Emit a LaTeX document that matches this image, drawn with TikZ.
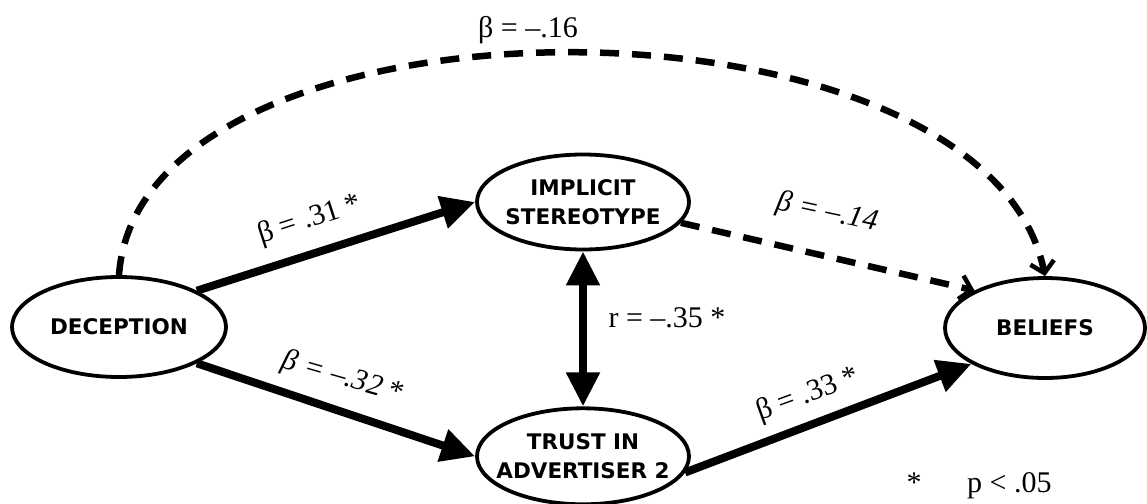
\documentclass[tikz,border=0pt]{standalone}
\usepackage{fontspec}
\setmainfont{Liberation Serif}
\newfontfamily\varfont{DejaVu Sans}
\usetikzlibrary{positioning,arrows.meta,shapes.geometric}

\begin{document}
\begin{tikzpicture}[
  x=1pt, y=-1pt,
  var/.style ={ellipse, draw=black, line width=3.8pt, inner xsep=-30pt, inner ysep=-10pt,
               minimum width=212pt, minimum height=95pt, align=center,
               font=\varfont\bfseries\fontsize{21.5}{29}\selectfont},
  coef/.style={font=\fontsize{30}{34}\selectfont, inner sep=0pt},
  sig/.style ={line width=8pt, -{Triangle[length=34pt,width=32pt]}},
  nsig/.style={line width=6.5pt, dash pattern=on 19pt off 13pt,
               -{Straight Barb[length=11pt,width=24pt,line width=4.5pt]}}
]
\useasboundingbox (0,0) rectangle (1147,503);

% ---- Variables ---------------------------------------------------------------
\node[var, minimum width=214pt, minimum height=100pt] (dec) at (119,327) {DECEPTION};
\node[var] (imp) at (583,202) {IMPLICIT\\STEREOTYPE};
\node[var, below=155pt of imp, minimum height=96pt] (tru) {TRUST IN\\ADVERTISER 2};
\node[var, minimum width=200pt, minimum height=100pt] (bel) at (1045,328) {BELIEFS};

% ---- Paths (solid = significant, dashed = not) --------------------------------
\draw[sig] (dec.25) -- (imp.west);
\draw[sig] (dec.-25) -- (tru.west);
\draw[sig] (tru.-9) -- (bel.206);
\draw[sig, {Triangle[length=34pt,width=32pt]}-{Triangle[length=34pt,width=32pt]}] (imp.south) -- (tru.north);
\draw[nsig] (imp.-12) -- (bel.152);
\draw[nsig] (dec.north) .. controls +(21,-297) and +(-60,-297) .. (bel.north);

% ---- Coefficients --------------------------------------------------------------
\node[coef] (b16) at (528,30) {β = –.16};
\node[coef, rotate=18] (b31) at (310,220) {β = .31 *};
\node[coef, rotate=-16] (b32) at (343,378) {{\itshape β = –.32} *};
\node[coef, rotate=-12] (b14) at (827,213) {\itshape β = –.14};
\node[coef, rotate=20] (b33) at (808,395) {β = .33 *};
\node[coef] (r35) at (667,318) {r = –.35 *};

% ---- Note ---------------------------------------------------------------------
\node[coef, anchor=base] (star) at (914,492) {*};
\node[coef, anchor=base west] (pval) at (967,492) {p < .05};

\end{tikzpicture}
\end{document}
